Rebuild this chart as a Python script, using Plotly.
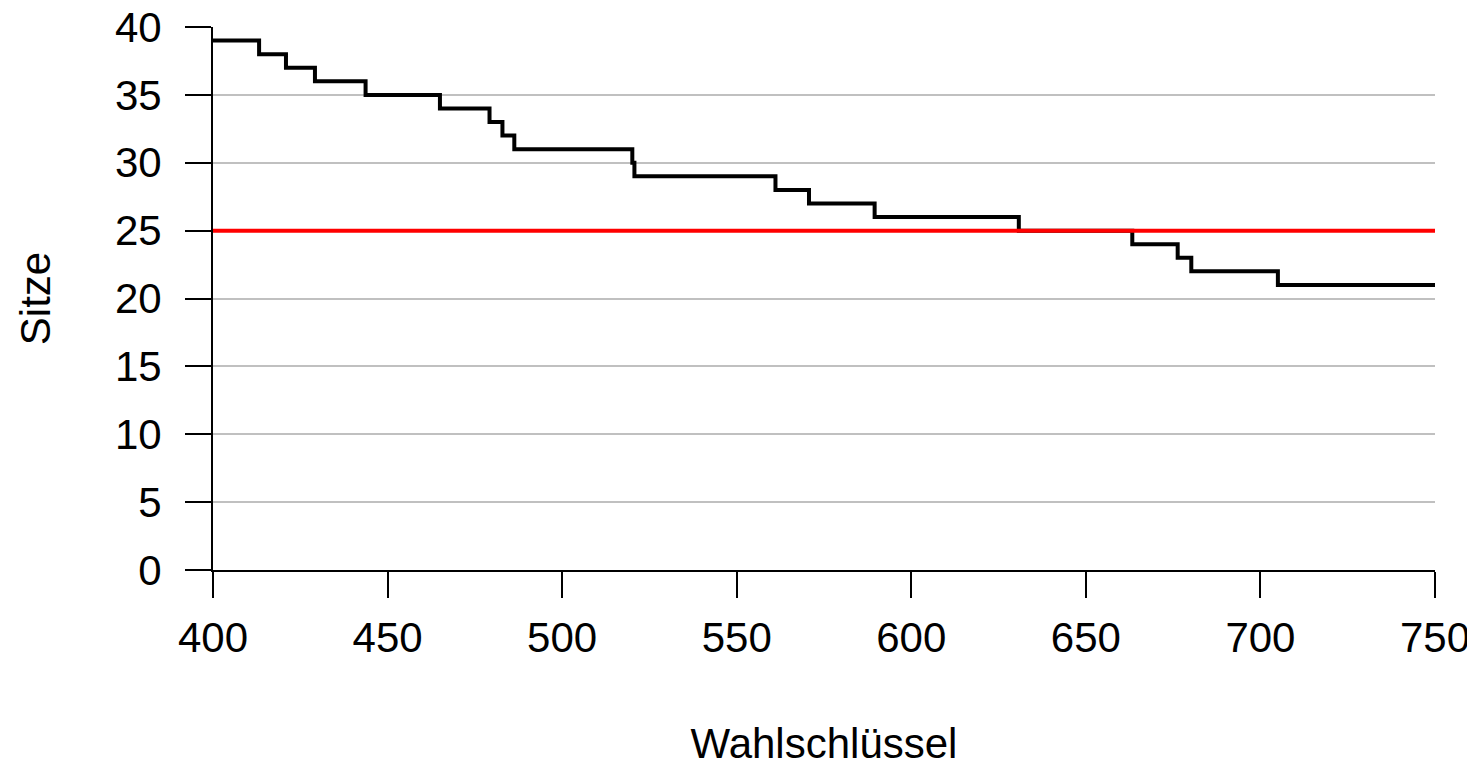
import plotly.graph_objects as go

# Step breakpoints (Wahlschlüssel) and seats (Sitze)
wahlschluessel = [400, 413.2, 420.9, 429.2, 443.7, 465.0, 479.2, 482.9, 486.3, 520.1,
                  520.7, 561.1, 570.7, 589.5, 630.8, 663.3, 676.3, 680.2, 705.0, 750]
sitze = [39, 38, 37, 36, 35, 34, 33, 32, 31, 30,
         29, 28, 27, 26, 25, 24, 23, 22, 21, 21]

schwelle_x = [400, 750]
schwelle_y = [25, 25]

x_ticks = [400, 450, 500, 550, 600, 650, 700, 750]
y_ticks = [0, 5, 10, 15, 20, 25, 30, 35, 40]

font_family = "Liberation Sans, Arial, sans-serif"

fig = go.Figure()
fig.add_trace(go.Scatter(x=wahlschluessel, y=sitze, mode="lines",
                         line=dict(color="black", width=4, shape="hv"),
                         cliponaxis=False, showlegend=False))
fig.add_trace(go.Scatter(x=schwelle_x, y=schwelle_y, mode="lines",
                         line=dict(color="#ff0000", width=4),
                         cliponaxis=False, showlegend=False))

fig.update_layout(
    width=1467, height=759,
    margin=dict(l=205, r=40, t=19, b=197),
    paper_bgcolor="white", plot_bgcolor="white",
    font=dict(family=font_family, size=42, color="black"),
    xaxis=dict(range=[400, 750], tickvals=x_ticks, showgrid=False, zeroline=False,
               showline=True, linecolor="black", linewidth=2,
               ticks="outside", ticklen=26, tickwidth=2, tickcolor="black",
               ticklabelstandoff=4, automargin=False, ticklabeloverflow="allow",
               tickfont=dict(size=42),
               title=dict(text="Wahlschlüssel", standoff=88, font=dict(size=42))),
    yaxis=dict(range=[0, 40], tickvals=y_ticks, showgrid=True, gridcolor="#c0c0c0",
               gridwidth=2, zeroline=False,
               showline=True, linecolor="black", linewidth=2,
               ticks="outside", ticklen=26, tickwidth=2, tickcolor="black",
               ticklabelstandoff=15, automargin=False, ticklabeloverflow="allow",
               tickfont=dict(size=42),
               title=dict(text="Sitze", standoff=51, font=dict(size=42))),
)

fig.write_html("out.html")
